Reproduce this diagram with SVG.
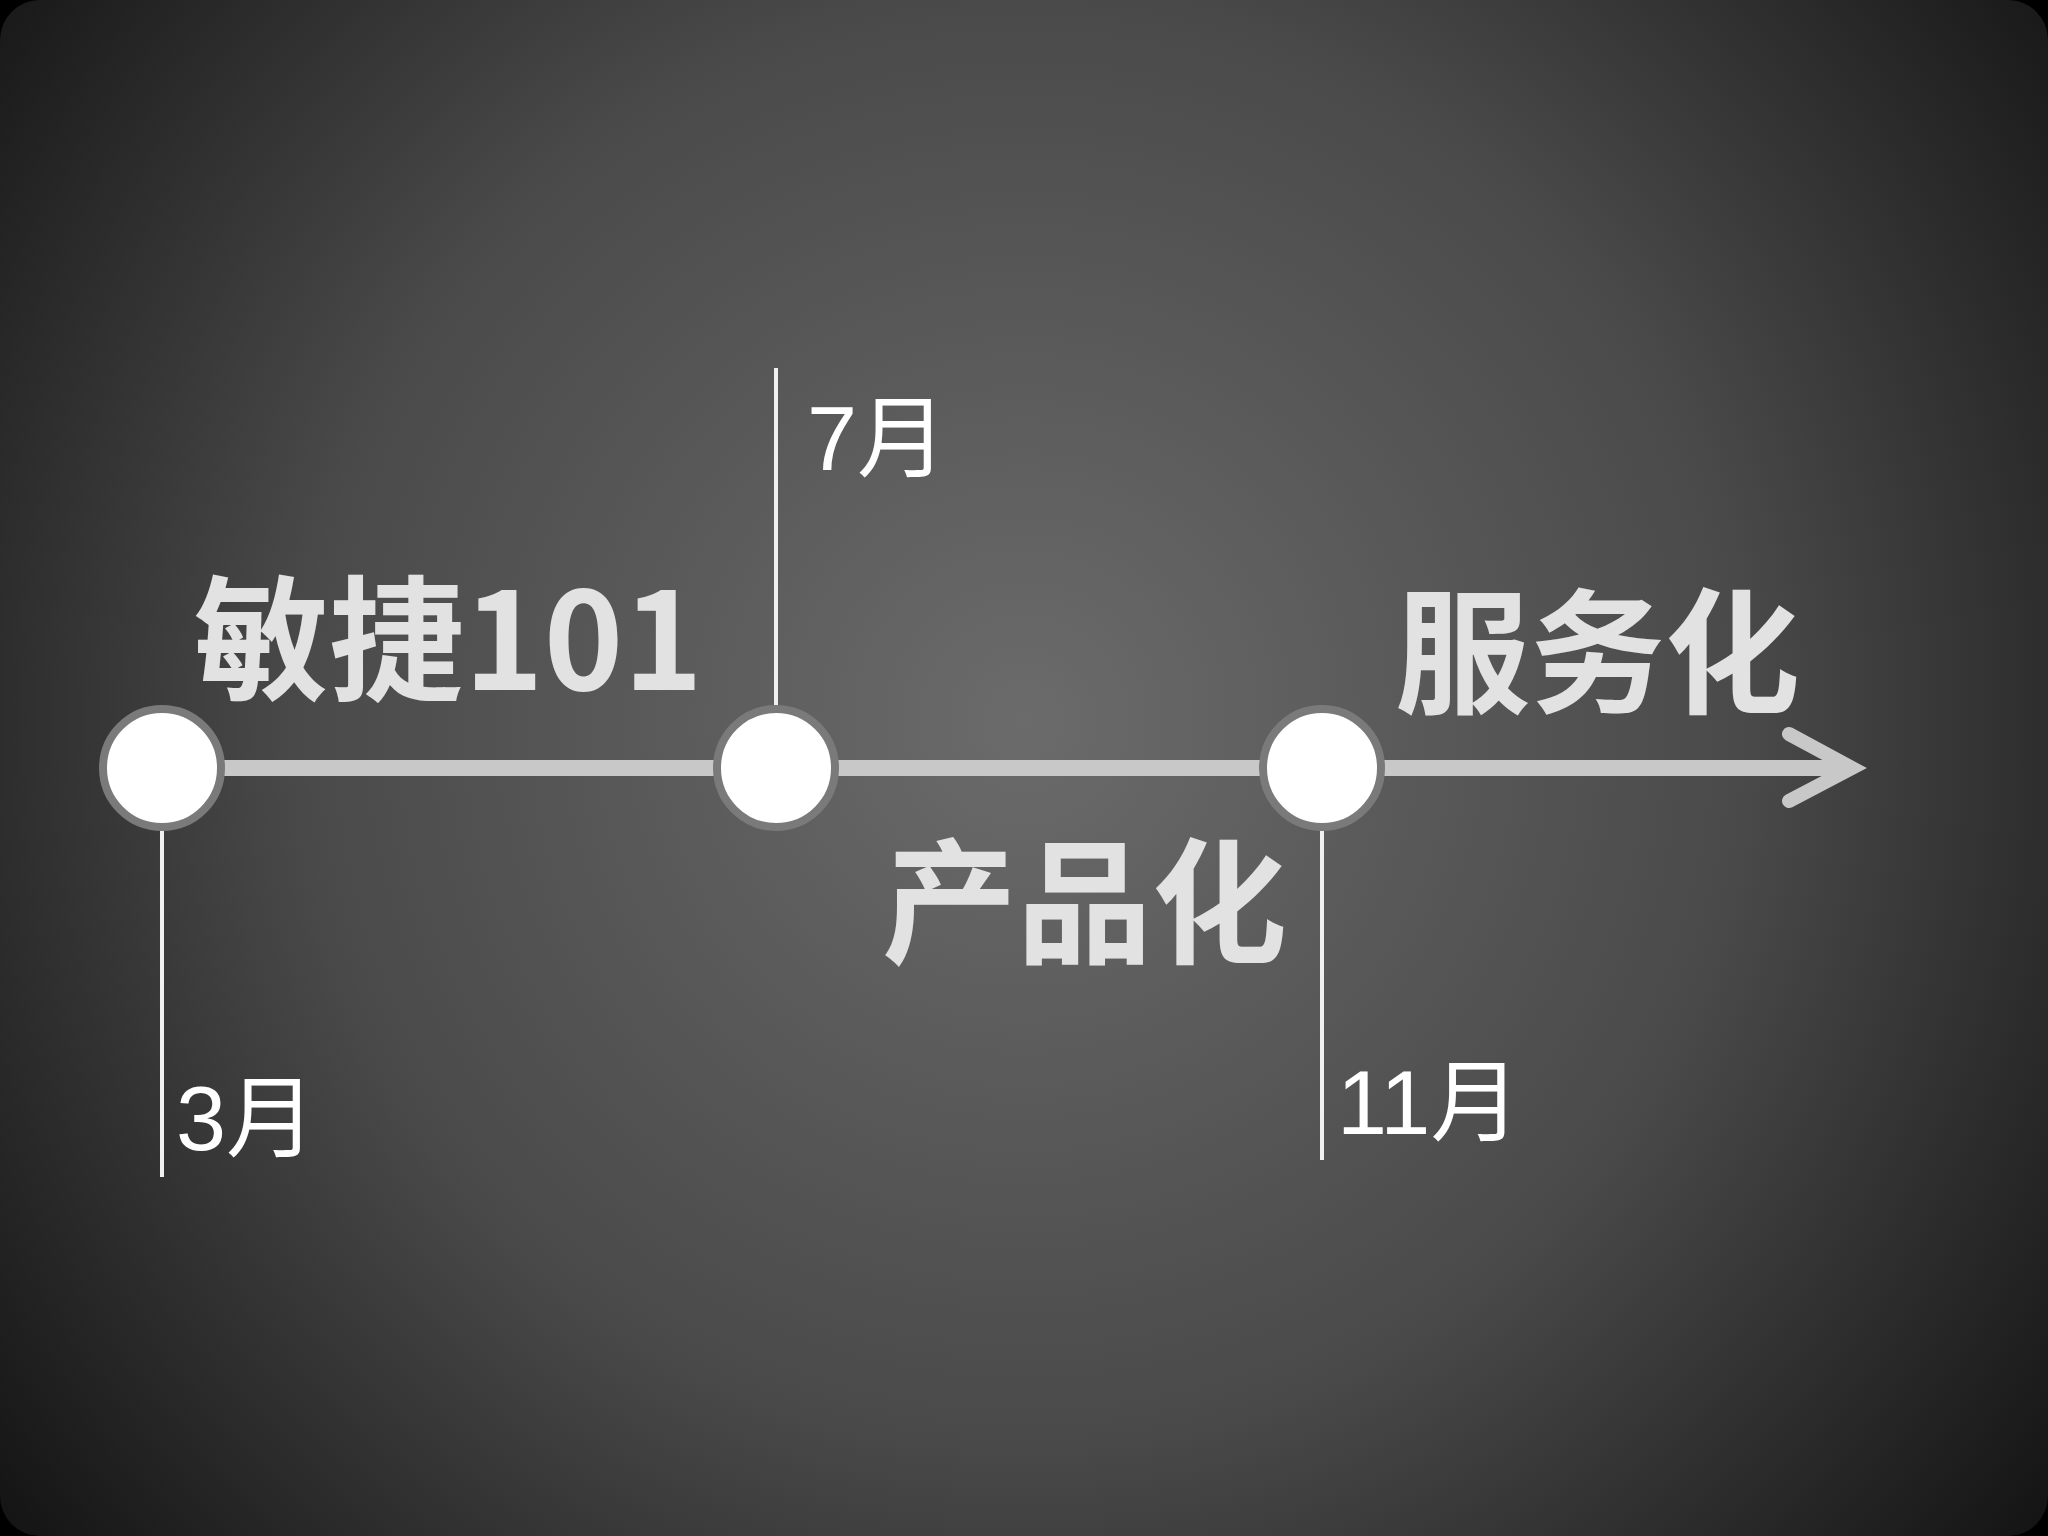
<svg xmlns="http://www.w3.org/2000/svg" width="2048" height="1536" viewBox="0 0 2048 1536">
<defs>
<radialGradient id="bg" cx="1024" cy="720" r="1300" gradientUnits="userSpaceOnUse">
<stop offset="0" stop-color="#6b6b6b"/>
<stop offset="0.55" stop-color="#4a4a4a"/>
<stop offset="1" stop-color="#141414"/>
</radialGradient>
<style>
.big{font-family:"Noto Sans CJK SC","Liberation Sans",sans-serif;font-weight:bold;font-size:135px;fill:#e2e2e2}
.sm{font-family:"Liberation Sans","Noto Sans CJK SC",sans-serif;font-size:90px;fill:#ffffff}
.tick{stroke:#f0f0f0;stroke-width:4}
.node{fill:#ffffff;stroke:#7a7a7a;stroke-width:8}
</style>
</defs>
<rect width="2048" height="1536" fill="#000"/>
<rect width="2048" height="1536" rx="40" fill="url(#bg)"/>
<g id="connectors">
<line x1="162" y1="768" x2="1840" y2="768" stroke="#c8c8c8" stroke-width="16"/>
<polyline points="1789,734 1852,768 1789,801" fill="none" stroke="#c8c8c8" stroke-width="14" stroke-linecap="round" stroke-linejoin="miter"/>
<line class="tick" x1="162" y1="831" x2="162" y2="1177"/>
<line class="tick" x1="776" y1="368" x2="776" y2="705"/>
<line class="tick" x1="1322" y1="831" x2="1322" y2="1160"/>
</g>
<g id="n1"><circle class="node" cx="162" cy="768" r="59"/><text class="sm" x="176" y="1150">3月</text><text class="big" x="194" y="690">敏捷101</text></g>
<g id="n2"><circle class="node" cx="776" cy="768" r="59"/><text class="sm" x="807" y="470">7月</text><text class="big" x="882" y="953">产品化</text></g>
<g id="n3"><circle class="node" cx="1322" cy="768" r="59"/><text class="sm" x="1337" y="1134">11月</text><text class="big" x="1395" y="703">服务化</text></g>
</svg>
